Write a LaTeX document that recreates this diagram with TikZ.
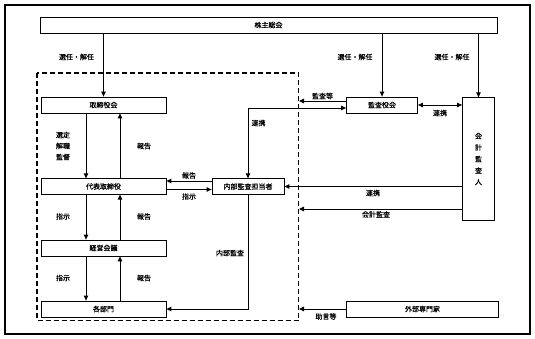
\documentclass[tikz,border=0pt]{standalone}
\usepackage{fontspec}
\newfontfamily\jp[FakeBold=0.6]{Noto Sans CJK JP}
\usetikzlibrary{arrows.meta}
\tikzset{
  box/.style={draw, line width=0.8pt, inner sep=0pt, font=\jp\fontsize{7}{8.5}\selectfont},
  lbl/.style={inner sep=0pt, font=\jp\fontsize{7}{8.5}\selectfont},
  arr/.style={-{Triangle[length=5pt,width=4.5pt]}, line width=0.9pt},
  darr/.style={{Triangle[length=5pt,width=4.5pt]}-{Triangle[length=5pt,width=4.5pt]}, line width=0.9pt},
  frame/.style={draw, line width=1.2pt},
  group/.style={draw, line width=1.3pt, dash pattern=on 5pt off 3pt}
}
\begin{document}
\begin{tikzpicture}[x=1pt,y=-1pt]
\useasboundingbox (0,0) rectangle (535,339);
\draw[frame] (5,5) rectangle (530,334);
\draw[group] (37,73) rectangle (298.5,320.5);

\node[box, minimum width=457pt, minimum height=16pt] (kabu) at (268.5,25) {株主総会};
\node[box, minimum width=125pt, minimum height=16pt] (tori) at (103.5,105) {取締役会};
\node[box, minimum width=125pt, minimum height=15.5pt] (dai) at (103.5,186.5) {代表取締役};
\node[box, minimum width=125pt, minimum height=16pt] (keiei) at (103.5,248) {経営会議};
\node[box, minimum width=125pt, minimum height=16pt] (kakubu) at (103.5,309) {各部門};
\node[box, minimum width=72pt, minimum height=15.5pt] (naibu) at (248,186.5) {内部監査担当者};
\node[box, minimum width=71pt, minimum height=16pt] (kansa) at (382,105) {監査役会};
\node[box, minimum width=32pt, minimum height=122.5pt, align=center, font=\jp\fontsize{7}{11.5}\selectfont] (kaikei) at (478.5,159) {会\\計\\監\\査\\人};
\node[box, minimum width=152pt, minimum height=16pt] (gaibu) at (422.5,309) {外部専門家};

\coordinate (d1) at (299,101);
\coordinate (d2) at (299,209);
\coordinate (d3) at (299,309);

% from shareholders
\draw[arr] (kabu.south -| tori.north) -- (tori.north);
\draw[arr] (kabu.south -| kansa.north) -- (kansa.north);
\draw[arr] (kabu.south -| kaikei.north) -- (kaikei.north);
\node[lbl] (l1) at (76.5,57) {選任・解任};
\node[lbl] (l2) at (355,57) {選任・解任};
\node[lbl] (l3) at (452,57) {選任・解任};

% left column
\draw[arr] ([xshift=-17.5pt]tori.south) -- ([xshift=-17.5pt]dai.north);
\draw[arr] ([xshift=16.5pt]dai.north) -- ([xshift=16.5pt]tori.south);
\draw[arr] ([xshift=-17.5pt]dai.south) -- ([xshift=-17.5pt]keiei.north);
\draw[arr] ([xshift=16.5pt]keiei.north) -- ([xshift=16.5pt]dai.south);
\draw[arr] ([xshift=-17.5pt]keiei.south) -- ([xshift=-17.5pt]kakubu.north);
\draw[arr] ([xshift=16.5pt]kakubu.north) -- ([xshift=16.5pt]keiei.south);
\node[lbl, align=center, font=\jp\fontsize{7}{11}\selectfont] (l4) at (63,146) {選定\\解職\\監督};
\node[lbl] (l5) at (144,146) {報告};
\node[lbl] (l6) at (63,216.5) {指示};
\node[lbl] (l7) at (144,216.5) {報告};
\node[lbl] (l8) at (63,278) {指示};
\node[lbl] (l9) at (144,278) {報告};

% internal audit
\draw[arr] ([yshift=5.5pt]naibu.west) -- ([yshift=5.5pt]dai.east);
\draw[arr] ([yshift=-3pt]dai.east) -- ([yshift=-3pt]naibu.west);
\node[lbl] (l10) at (189,175.5) {報告};
\node[lbl] (l11) at (189,196.5) {指示};
\draw[arr] (naibu.south) |- (kakubu.east);
\node[lbl] (l12) at (230,253) {内部監査};

% auditors
\draw[arr] ([yshift=4pt]kansa.west) -- (d1);
\node[lbl] (l13) at (322.5,96) {監査等};
\draw[darr] (naibu.north) |- ([yshift=-3pt]kansa.west);
\node[lbl] (l14) at (258.5,123) {連携};
\draw[darr] (kansa.east) -- (kansa.east -| kaikei.west);
\node[lbl] (l15) at (440,113) {連携};
\draw[arr] (naibu.east -| kaikei.west) -- (naibu.east);
\node[lbl] (l16) at (373,193) {連携};
\draw[arr] (d2 -| kaikei.west) -- (d2);
\node[lbl] (l17) at (376,214.5) {会計監査};
\draw[arr] (gaibu.west) -- (d3);
\node[lbl] (l18) at (326,316.5) {助言等};
\end{tikzpicture}
\end{document}
